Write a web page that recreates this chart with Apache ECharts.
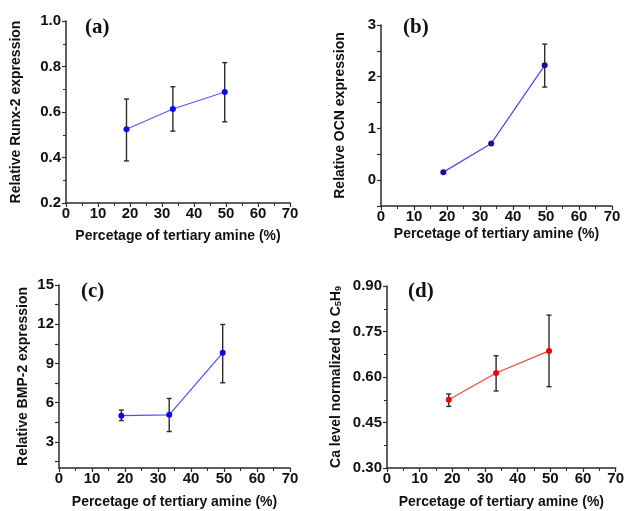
<!DOCTYPE html>
<html>
<head>
<meta charset="utf-8">
<script src="https://cdn.jsdelivr.net/npm/echarts@6/dist/echarts.min.js"></script>
<style>
  html, body { margin: 0; padding: 0; background: #fff; }
  #chart { width: 627px; height: 511px; }
</style>
</head>
<body>
<div id="chart"></div>
<script>
// ---- data ----
var amine = [18.9, 33.4, 49.6];              // Percetage of tertiary amine (%)

var runx2     = [0.524, 0.613, 0.688];
var runx2Lo   = [0.385, 0.516, 0.557];
var runx2Hi   = [0.657, 0.711, 0.817];

var ocn       = [0.155, 0.71, 2.22];
var ocnLo     = [0.155, 0.71, 1.80];
var ocnHi     = [0.155, 0.71, 2.63];

var bmp2      = [5.0, 5.07, 9.81];
var bmp2Lo    = [4.63, 3.79, 7.52];
var bmp2Hi    = [5.43, 6.32, 11.98];

var caLevel   = [0.525, 0.613, 0.686];
var caLo      = [0.503, 0.554, 0.568];
var caHi      = [0.544, 0.670, 0.804];

var xTicks    = [0, 10, 20, 30, 40, 50, 60, 70];
var ocnTicks  = [0, 1, 2, 3];
var bmpTicks  = [3, 6, 9, 12, 15];

var xName = "Percetage of tertiary amine (%)";

// ---- helpers ----
var INK = "#2b2b2b";
var SANS = "Liberation Sans, Arial, sans-serif";

function pairs(xs, ys){ return xs.map(function(x,i){ return [x, ys[i]]; }); }
function bars(xs, lo, hi){ return xs.map(function(x,i){ return [x, lo[i], hi[i]]; }); }

function errSeries(idx, data){
  return {
    type: "custom", xAxisIndex: idx, yAxisIndex: idx, z: 3,
    data: data,
    renderItem: function(params, api){
      var top = api.coord([api.value(0), api.value(2)]);
      var bot = api.coord([api.value(0), api.value(1)]);
      var cw = 2.5;
      var st = { stroke: INK, lineWidth: 1.4 };
      return { type: "group", children: [
        { type: "line", shape: { x1: top[0], y1: top[1], x2: bot[0], y2: bot[1] }, style: st },
        { type: "line", shape: { x1: top[0]-cw, y1: top[1], x2: top[0]+cw, y2: top[1] }, style: st },
        { type: "line", shape: { x1: bot[0]-cw, y1: bot[1], x2: bot[0]+cw, y2: bot[1] }, style: st }
      ]};
    }
  };
}
function lineSeries(idx, data, mk, ln){
  return {
    type: "line", xAxisIndex: idx, yAxisIndex: idx, z: 4,
    data: data, symbol: "circle", symbolSize: 6,
    itemStyle: { color: mk }, lineStyle: { color: ln, width: 1.2 }
  };
}

var axisLineStyle = { show: true, onZero: false, lineStyle: { color: INK, width: 1.5 } };
var tickStyle = { show: true, inside: false, length: 4, lineStyle: { color: INK, width: 1.2 } };
var labelFont = { color: "#111", fontFamily: SANS, fontWeight: "bold", fontSize: 15 };
var nameFont = { color: "#111", fontFamily: SANS, fontWeight: "bold", fontSize: 14 };

function xAxis(idx, gap){
  return {
    type: "value", gridIndex: idx, min: 0, max: 70, interval: 10,
    name: xName, nameLocation: "middle", nameGap: gap,
    nameTextStyle: nameFont,
    axisLine: axisLineStyle, axisTick: tickStyle,
    minorTick: { show: true, splitNumber: 2, length: 3, lineStyle: { color: INK, width: 1 } },
    axisLabel: Object.assign({ margin: 3, customValues: xTicks }, labelFont),
    splitLine: { show: false }
  };
}
function yAxis(idx, name, gap, extra){
  var ax = {
    type: "value", gridIndex: idx,
    name: name, nameLocation: "middle", nameGap: gap, nameRotate: 90,
    nameTextStyle: Object.assign({
      rich: { sub: { fontFamily: SANS, fontWeight: "bold", fontSize: 9, color: "#111", verticalAlign: "bottom" } }
    }, nameFont),
    axisLine: axisLineStyle, axisTick: Object.assign({}, tickStyle),
    axisLabel: Object.assign({ margin: 5 }, labelFont),
    splitLine: { show: false }
  };
  for (var k in extra){
    if (k === "axisLabel" || k === "axisTick") ax[k] = Object.assign({}, ax[k], extra[k]);
    else ax[k] = extra[k];
  }
  return ax;
}
function panelTag(txt, left, top){
  return { text: txt, left: left, top: top,
    textStyle: { fontFamily: "Liberation Serif, Times New Roman, serif", fontWeight: "bold", fontSize: 21, color: "#111" } };
}

var chart = echarts.init(document.getElementById("chart"), null, { renderer: "canvas" });
chart.setOption({
  backgroundColor: "#fff",
  animation: false,
  title: [
    panelTag("(a)", 80, 12),
    panelTag("(b)", 398, 12),
    panelTag("(c)", 76, 276),
    panelTag("(d)", 403, 276)
  ],
  grid: [
    { left: 66,  top: 21,  width: 224, height: 182 },
    { left: 381, top: 25,  width: 231, height: 181 },
    { left: 59,  top: 285, width: 231, height: 183 },
    { left: 387, top: 286, width: 231, height: 182 }
  ],
  xAxis: [ xAxis(0, 26), xAxis(1, 21), xAxis(2, 27), xAxis(3, 27) ],
  yAxis: [
    yAxis(0, "Relative Runx-2 expression", 43, {
      min: 0.2, max: 1.0, interval: 0.2,
      minorTick: { show: true, splitNumber: 2, length: 3, lineStyle: { color: INK, width: 1 } },
      axisLabel: { formatter: function(v){ return v.toFixed(1); } }
    }),
    yAxis(1, "Relative OCN expression", 34, {
      min: -0.5, max: 3,
      axisLabel: { customValues: ocnTicks },
      axisTick: { customValues: [-0.5, 0, 0.5, 1, 1.5, 2, 2.5, 3] }
    }),
    yAxis(2, "Relative BMP-2 expression", 29, {
      min: 1, max: 15,
      axisLabel: { customValues: bmpTicks },
      axisTick: { customValues: [1.5, 3, 4.5, 6, 7.5, 9, 10.5, 12, 13.5, 15] }
    }),
    yAxis(3, "Ca level normalized to C{sub|5}H{sub|9}", 44, {
      min: 0.30, max: 0.90, interval: 0.15,
      minorTick: { show: true, splitNumber: 2, length: 3, lineStyle: { color: INK, width: 1 } },
      axisLabel: { formatter: function(v){ return v.toFixed(2); } }
    })
  ],
  series: [
    errSeries(0, bars(amine, runx2Lo, runx2Hi)),
    lineSeries(0, pairs(amine, runx2), "#0a0af0", "#5a5af2"),
    errSeries(1, bars(amine, ocnLo, ocnHi)),
    lineSeries(1, pairs(amine, ocn), "#14148f", "#4a4ae8"),
    errSeries(2, bars(amine, bmp2Lo, bmp2Hi)),
    lineSeries(2, pairs(amine, bmp2), "#0a0af0", "#5050f0"),
    errSeries(3, bars(amine, caLo, caHi)),
    lineSeries(3, pairs(amine, caLevel), "#f00000", "#f04545")
  ]
});
</script>
</body>
</html>
